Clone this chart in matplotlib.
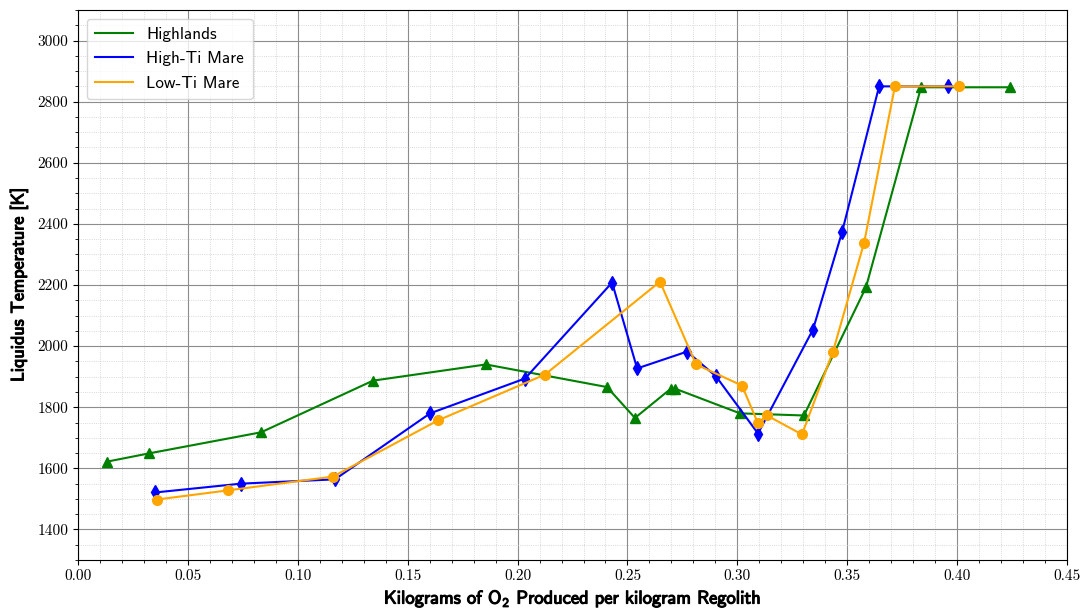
import matplotlib
matplotlib.use("Agg")
import matplotlib.pyplot as plt
import matplotlib.patheffects as pe
from matplotlib.ticker import MultipleLocator

# oxygen yield (kg O2 / kg regolith) vs liquidus temperature (K)
highlands_x = [0.0132, 0.0323, 0.0833, 0.1342, 0.1856, 0.2407, 0.2534, 0.2698,
               0.2716, 0.3012, 0.3303, 0.3585, 0.3836, 0.4241]
highlands_T = [1622, 1649, 1718, 1887, 1940, 1866, 1765, 1861,
               1861, 1780, 1773, 2192, 2847, 2847]

high_ti_x = [0.0350, 0.0742, 0.1169, 0.1602, 0.2034, 0.2430, 0.2544, 0.2771,
             0.2903, 0.3094, 0.3344, 0.3476, 0.3645, 0.3959]
high_ti_T = [1521, 1550, 1564, 1780, 1894, 2208, 1927, 1982,
             1901, 1714, 2054, 2372, 2850, 2850]

low_ti_x = [0.0359, 0.0683, 0.1160, 0.1638, 0.2125, 0.2648, 0.2812, 0.3021,
            0.3094, 0.3135, 0.3294, 0.3435, 0.3577, 0.3717, 0.4009]
low_ti_T = [1498, 1528, 1573, 1757, 1907, 2211, 1940, 1871,
            1747, 1773, 1711, 1982, 2339, 2850, 2850]

plt.rcParams['font.family'] = 'cmr10'
plt.rcParams['axes.formatter.use_mathtext'] = True
plt.rcParams['mathtext.fontset'] = 'custom'
plt.rcParams['mathtext.rm'] = 'cmss10'
plt.rcParams['mathtext.default'] = 'rm'

fig = plt.figure(figsize=(10.87, 6.08), dpi=100)
ax = fig.add_axes([0.0718, 0.0789, 0.9098, 0.9047])

series = [
    (highlands_x, highlands_T, 'green', '^', 'Highlands'),
    (high_ti_x, high_ti_T, 'blue', 'd', 'High-Ti Mare'),
    (low_ti_x, low_ti_T, 'orange', 'o', 'Low-Ti Mare'),
]
for x, T, c, m, name in series:
    ax.plot(x, T, color=c, lw=1.5, label=name)
    ax.plot(x, T, m, color=c, ms=7, ls='none')

ax.set_xlim(0, 0.45)
ax.set_ylim(1300, 3100)
ax.xaxis.set_major_locator(MultipleLocator(0.05))
ax.xaxis.set_minor_locator(MultipleLocator(0.01))
ax.yaxis.set_major_locator(MultipleLocator(200))
ax.yaxis.set_minor_locator(MultipleLocator(50))
ax.xaxis.set_major_formatter(plt.FuncFormatter(lambda v, p: f"{v:.2f}"))
ax.yaxis.set_major_formatter(plt.FuncFormatter(lambda v, p: f"{v:.0f}"))
ax.tick_params(labelsize=11)

ax.set_axisbelow(True)
ax.grid(which='major', color='0.55', lw=0.8)
ax.grid(which='minor', color='0.8', lw=0.6, ls=':')

bold = [pe.withStroke(linewidth=0.8, foreground='black')]
ax.set_xlabel(r'Kilograms of O$_2$ Produced per kilogram Regolith',
              fontfamily='cmss10', fontsize=13.3, path_effects=bold, labelpad=3)
ax.set_ylabel('Liquidus Temperature [K]', fontfamily='cmss10', fontsize=13,
              path_effects=bold, labelpad=7)

leg = ax.legend(loc='upper left', prop={'family': 'cmss10', 'size': 12.3},
                handlelength=2.2, borderpad=0.5, labelspacing=0.55,
                handletextpad=0.8)

fig.savefig('out.png', dpi=100)
